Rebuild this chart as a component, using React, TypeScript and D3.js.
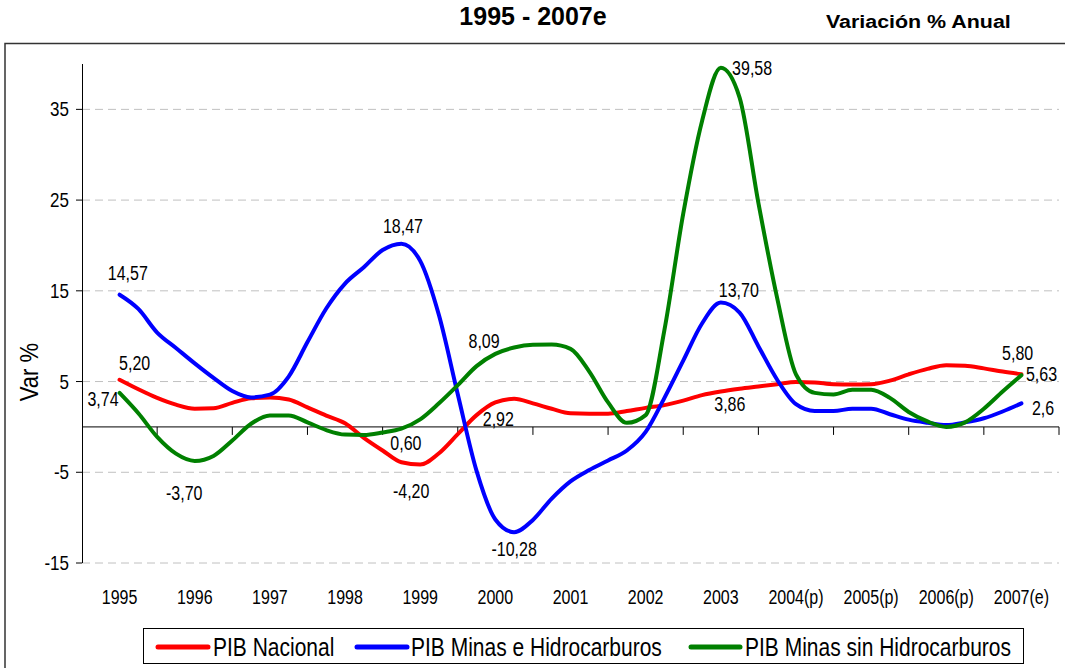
import React from "react";
import * as d3 from "d3";

// ---- Data ----
const categories = ["1995", "1996", "1997", "1998", "1999", "2000", "2001", "2002", "2003", "2004(p)", "2005(p)", "2006(p)", "2007(e)"];
const yTicks = [35, 25, 15, 5, -5, -15];

// quarterly readings (4 per year, starting 1995)
const pibNacional = [
  5.2, 4.15, 3.2, 2.45, 2.0, 2.05, 2.65, 3.15, 3.25, 3.03, 2.15, 1.25,
  0.4, -1.2, -2.6, -3.9, -4.15, -2.9, -0.8, 1.3, 2.7, 3.1, 2.6, 2.0,
  1.5, 1.45, 1.45, 1.75, 2.1, 2.4, 2.9, 3.5, 3.9, 4.2, 4.45, 4.7,
  4.95, 4.9, 4.7, 4.68, 4.7, 5.1, 5.8, 6.4, 6.8, 6.75, 6.45, 6.1, 5.8,
];
const pibMinasHidro = [
  14.57, 13.0, 10.4, 8.7, 7.0, 5.4, 3.95, 3.25, 3.55, 5.55, 9.35, 13.05,
  15.8, 17.6, 19.5, 20.2, 18.3, 12.3, 3.6, -4.85, -10.2, -11.6, -10.25, -7.9,
  -6.0, -4.75, -3.7, -2.6, -0.55, 3.2, 7.3, 11.4, 13.7, 12.6, 8.9, 5.2,
  2.5, 1.75, 1.75, 2.0, 2.0, 1.4, 0.8, 0.45, 0.2, 0.5, 0.95, 1.7, 2.6,
];
const pibMinasSinHidro = [
  3.74, 1.5, -1.1, -2.95, -3.75, -3.2, -1.5, 0.35, 1.25, 1.27, 0.5, -0.35,
  -0.85, -0.9, -0.62, -0.2, 0.83, 2.6, 4.6, 6.7, 8.05, 8.75, 9.05, 9.08,
  8.6, 6.1, 2.7, 0.45, 1.3, 10.7, 23.5, 33.7, 39.58, 36.3, 24.7, 14.2,
  5.8, 3.75, 3.58, 4.1, 4.1, 3.2, 1.65, 0.6, 0.0, 0.5, 2.0, 3.9, 5.7,
];

const seriesNames = ["PIB Nacional", "PIB Minas e Hidrocarburos", "PIB Minas sin Hidrocarburos"];
const seriesColors = ["#ff0000", "#0000ff", "#008000"];

// data labels: text, position in years from 1995, value
const labelTexts = ["14,57", "5,20", "3,74", "-3,70", "18,47", "0,60", "-4,20", "8,09", "2,92", "-10,28", "39,58", "13,70", "3,86", "5,80", "5,63", "2,6"];
const labelT = [0.11, 0.2, -0.22, 0.86, 3.77, 3.81, 3.88, 4.85, 5.04, 5.25, 8.15, 8.24, 8.12, 11.95, 12.06, 12.14];
const labelV = [16.2, 6.27, 2.3, -8.06, 21.37, -2.55, -7.84, 8.7, 0.1, -14.23, 38.79, 14.32, 1.75, 7.37, 5.06, 1.31];
const labelAnchor = ["middle", "middle", "middle", "middle", "middle", "middle", "middle", "middle", "middle", "middle", "start", "middle", "middle", "middle", "start", "start"];

const FONT = "'Liberation Sans', Arial, sans-serif";

function T({ x, y, sx = 1, size, anchor = "middle", weight = "normal", children, rotate = 0 }: any) {
  return (
    <text
      transform={`translate(${x},${y}) rotate(${rotate}) scale(${sx},1)`}
      textAnchor={anchor}
      fontSize={size}
      fontWeight={weight}
      fontFamily={FONT}
      fill="#000"
    >
      {children}
    </text>
  );
}

export default function App() {
  const W = 1065;
  const H = 668;
  const left = 82;
  const right = 1059;
  const top = 64;
  const bottom = 563;

  const x = d3.scaleBand<string>().domain(categories).range([left, right]).padding(0);
  const bw = x.bandwidth();
  const xCenter = (c: string) => (x(c) as number) + bw / 2;
  const xt = d3
    .scaleLinear()
    .domain([0, categories.length - 1])
    .range([xCenter(categories[0]), xCenter(categories[categories.length - 1])]);
  const y = d3.scaleLinear().domain([-15, 40]).range([bottom, top]);

  const allSeries = [pibNacional, pibMinasHidro, pibMinasSinHidro];
  const line = d3
    .line<number>()
    .x((_, i) => xt(i / 4))
    .y((d) => y(d))
    .curve(d3.curveMonotoneX);

  const boundaries = categories.map((c) => (x(c) as number) + bw);

  const legendSwatches = [
    [158, 208, 213],
    [357, 407, 411],
    [691, 740, 745],
  ];

  return (
    <svg width={W} height={H} style={{ position: "absolute", left: 0, top: 0, background: "#fff" }}>
      <rect x={0} y={0} width={W} height={H} fill="#fff" />
      {/* outer frame */}
      <rect x={5} y={43.5} width={1120} height={700} fill="none" stroke="#333" strokeWidth={1.5} />

      <T x={533} y={25} size={25} weight="bold">1995 - 2007e</T>
      <T x={826} y={28} size={18} weight="bold" anchor="start" sx={1.19}>Variación % Anual</T>

      {/* gridlines */}
      {yTicks.map((v) => (
        <line key={"g" + v} x1={left} x2={right} y1={y(v)} y2={y(v)} stroke="#c0c0c0" strokeWidth={1} strokeDasharray="8,5" />
      ))}
      {/* y axis */}
      <line x1={left + 0.5} x2={left + 0.5} y1={top} y2={bottom} stroke="#000" strokeWidth={1} />
      {yTicks.map((v) => (
        <g key={"t" + v}>
          <line x1={left - 6} x2={left} y1={y(v)} y2={y(v)} stroke="#000" strokeWidth={1} />
          <T x={69} y={y(v) + 7} size={20} anchor="end" sx={0.85}>{String(v)}</T>
        </g>
      ))}
      <T x={38} y={372} size={26} rotate={-90} sx={0.85}>Var %</T>

      {/* zero axis */}
      <line x1={left} x2={right} y1={y(0)} y2={y(0)} stroke="#000" strokeWidth={1} />
      {boundaries.map((b, i) => (
        <line key={"xb" + i} x1={b} x2={b} y1={y(0)} y2={y(0) + 8} stroke="#000" strokeWidth={1} />
      ))}
      {categories.map((c) => (
        <T key={"xl" + c} x={xCenter(c)} y={604} size={20} sx={0.8}>{c}</T>
      ))}

      {/* series */}
      {allSeries.map((s, k) => (
        <path key={"s" + k} d={line(s) as string} fill="none" stroke={seriesColors[k]} strokeWidth={4} strokeLinejoin="round" strokeLinecap="round" />
      ))}

      {/* data labels */}
      {labelTexts.map((t, i) => (
        <T key={"dl" + i} x={xt(labelT[i])} y={y(labelV[i])} size={20} sx={0.8} anchor={labelAnchor[i]}>{t}</T>
      ))}

      {/* legend */}
      <rect x={143.5} y={628.5} width={880} height={35} fill="#fff" stroke="#000" strokeWidth={1} />
      {seriesNames.map((n, k) => (
        <g key={"lg" + k}>
          <line x1={legendSwatches[k][0]} x2={legendSwatches[k][1]} y1={647} y2={647} stroke={seriesColors[k]} strokeWidth={5} strokeLinecap="round" />
          <T x={legendSwatches[k][2]} y={656} size={25} sx={0.84} anchor="start">{n}</T>
        </g>
      ))}
    </svg>
  );
}
